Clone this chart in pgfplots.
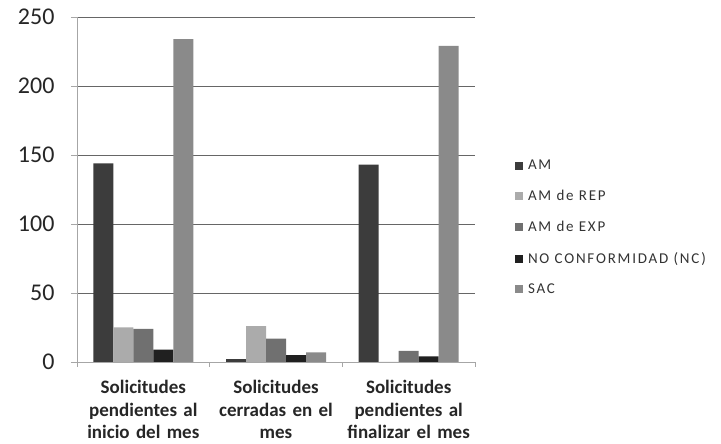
\documentclass[border=0pt]{standalone}
\usepackage{fontspec}
\setmainfont{Carlito}
\newfontfamily\legfont[LetterSpace=12]{Carlito}
\usepackage{pgfplots}
\pgfplotsset{compat=1.18}

\definecolor{cAM}{HTML}{3C3C3C}
\definecolor{cREP}{HTML}{ABABAB}
\definecolor{cEXP}{HTML}{707070}
\definecolor{cNC}{HTML}{202020}
\definecolor{cSAC}{HTML}{8A8A8A}

\begin{document}
\begin{tikzpicture}
\path[use as bounding box] (0,0) rectangle (721pt,444pt);
\begin{axis}[
    at={(77pt,82pt)}, anchor=south west,
    scale only axis,
    width=398pt, height=345pt,
    ybar=0pt, bar width=20pt,
    xmin=-0.5, xmax=2.5,
    ymin=0, ymax=250,
    ytick={0,50,100,150,200,250},
    xtick={0,1,2},
    xticklabels={
        {Solicitudes\\pendientes al\\inicio del mes},
        {Solicitudes\\cerradas en el\\mes},
        {Solicitudes\\pendientes al\\finalizar el mes}},
    minor xtick={-0.5,0.5,1.5,2.5},
    x tick style={draw=none},
    minor x tick style={draw=gray!70, line width=0.8pt},
    minor tick length=5pt,
    y tick style={draw=gray!70},
    major tick length=6pt,
    tick align=outside,
    tick pos=left,
    axis x line*=bottom,
    axis y line*=left,
    axis line style={draw=gray!70, line width=0.8pt},
    ymajorgrids=true,
    grid style={draw=gray!80!black, line width=0.8pt},
    /pgf/number format/assume math mode=true,
    yticklabel style={font=\fontsize{24}{28}\selectfont, text=black!85, xshift=-13pt},
    xticklabel style={font=\fontsize{19}{22.5}\selectfont\bfseries, text=black!85,
        align=center, text width=140pt, yshift=-9pt},
    legend style={at={(1.1,0.585)}, anchor=north west, draw=none, fill=none,
        font=\legfont\fontsize{15}{17}\selectfont, text=black!80,
        row sep=19pt, inner sep=0pt,
        nodes={inner sep=0pt},
        /tikz/every odd column/.append style={column sep=5pt}},
    legend image code/.code={\fill[#1] (0pt,-4pt) rectangle (8pt,4pt);},
    legend cell align=left,
]
\addplot[fill=cAM, draw=none] coordinates {(0,144) (1,2) (2,143)};
\addplot[fill=cREP, draw=none] coordinates {(0,25) (1,26) (2,0)};
\addplot[fill=cEXP, draw=none] coordinates {(0,24) (1,17) (2,8)};
\addplot[fill=cNC, draw=none] coordinates {(0,9) (1,5) (2,4)};
\addplot[fill=cSAC, draw=none] coordinates {(0,234) (1,7) (2,229)};
\legend{AM, AM de REP, AM de EXP, NO CONFORMIDAD (NC), SAC}
\end{axis}
\end{tikzpicture}
\end{document}
